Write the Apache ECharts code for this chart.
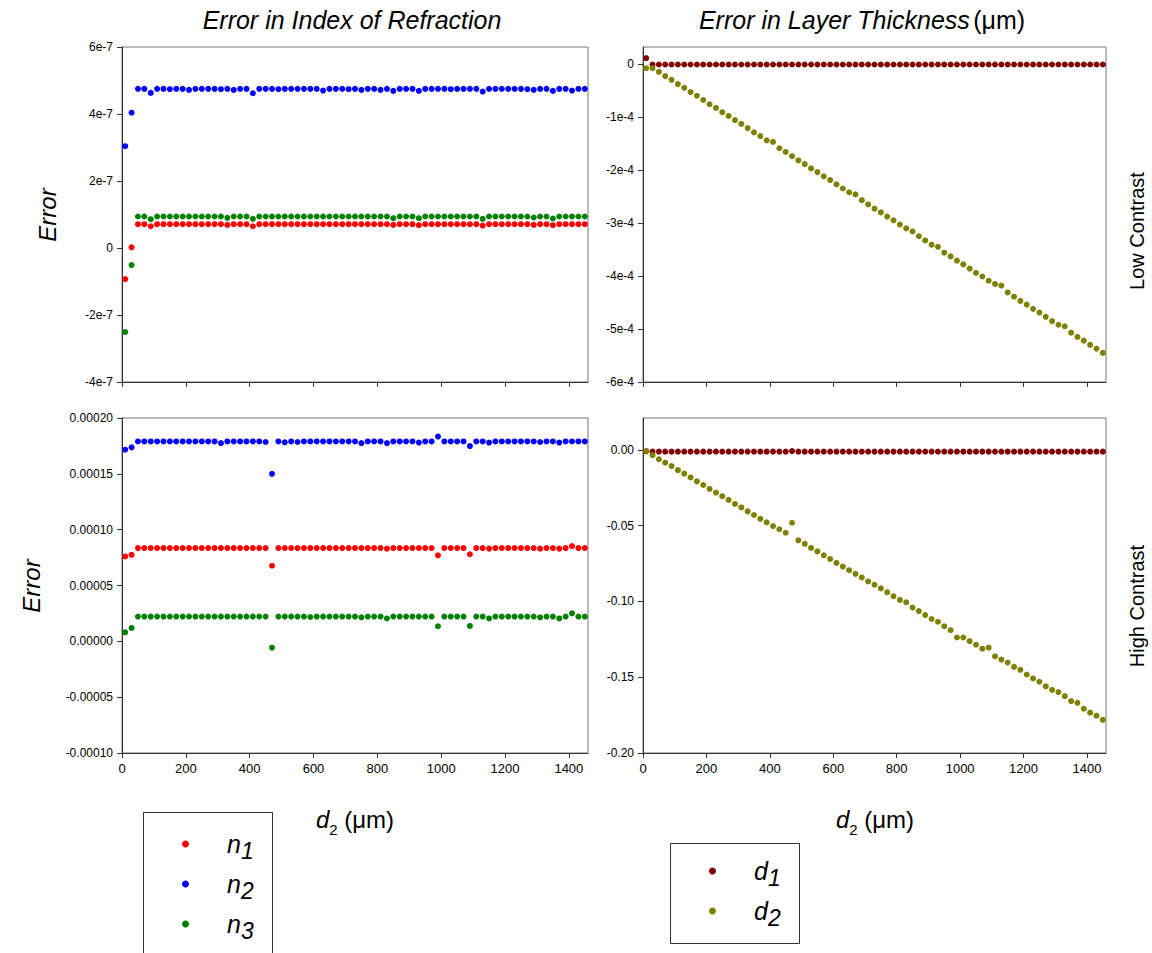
<!DOCTYPE html>
<html>
<head>
<meta charset="utf-8">
<script src="https://cdn.jsdelivr.net/npm/echarts@6/dist/echarts.min.js"></script>
<style>
  html, body {margin: 0; padding: 0; background: #fff;}
  #main {width: 1152px; height: 953px;}
</style>
</head>
<body>
<div id="main"></div>
<script>
// d2 positions (um)
var xVals = [10,30,50,70,90,110,130,150,170,190,210,230,250,270,290,310,330,350,370,390,
  410,430,450,470,490,510,530,550,570,590,610,630,650,670,690,710,730,750,770,790,
  810,830,850,870,890,910,930,950,970,990,1010,1030,1050,1070,1090,1110,1130,1150,1170,1190,
  1210,1230,1250,1270,1290,1310,1330,1350,1370,1390,1410,1430,1450];

// low contrast, index errors
var lowN1 = [-0.93e-7,0.02e-7,0.71e-7,0.71e-7,0.65e-7,0.71e-7,0.71e-7,0.71e-7,0.71e-7,0.71e-7,
  0.71e-7,0.71e-7,0.71e-7,0.71e-7,0.71e-7,0.71e-7,0.69e-7,0.71e-7,0.71e-7,0.71e-7,
  0.65e-7,0.71e-7,0.71e-7,0.71e-7,0.71e-7,0.71e-7,0.71e-7,0.71e-7,0.71e-7,0.71e-7,
  0.71e-7,0.71e-7,0.71e-7,0.71e-7,0.71e-7,0.71e-7,0.71e-7,0.71e-7,0.71e-7,0.71e-7,
  0.71e-7,0.71e-7,0.69e-7,0.71e-7,0.71e-7,0.71e-7,0.68e-7,0.71e-7,0.71e-7,0.71e-7,
  0.71e-7,0.71e-7,0.71e-7,0.71e-7,0.71e-7,0.71e-7,0.67e-7,0.71e-7,0.71e-7,0.71e-7,
  0.71e-7,0.71e-7,0.71e-7,0.71e-7,0.69e-7,0.71e-7,0.71e-7,0.68e-7,0.71e-7,0.71e-7,
  0.71e-7,0.71e-7,0.71e-7];
var lowN2 = [3.04e-7,4.04e-7,4.75e-7,4.75e-7,4.63e-7,4.75e-7,4.75e-7,4.74e-7,4.75e-7,4.75e-7,
  4.72e-7,4.75e-7,4.75e-7,4.75e-7,4.75e-7,4.74e-7,4.75e-7,4.72e-7,4.75e-7,4.75e-7,
  4.62e-7,4.75e-7,4.75e-7,4.75e-7,4.74e-7,4.75e-7,4.75e-7,4.75e-7,4.75e-7,4.75e-7,
  4.75e-7,4.70e-7,4.75e-7,4.75e-7,4.75e-7,4.74e-7,4.75e-7,4.72e-7,4.75e-7,4.75e-7,
  4.72e-7,4.75e-7,4.69e-7,4.75e-7,4.75e-7,4.75e-7,4.69e-7,4.75e-7,4.75e-7,4.75e-7,
  4.75e-7,4.74e-7,4.75e-7,4.75e-7,4.75e-7,4.75e-7,4.67e-7,4.75e-7,4.75e-7,4.75e-7,
  4.75e-7,4.75e-7,4.75e-7,4.74e-7,4.72e-7,4.75e-7,4.75e-7,4.69e-7,4.75e-7,4.75e-7,
  4.70e-7,4.75e-7,4.75e-7];
var lowN3 = [-2.51e-7,-0.51e-7,0.94e-7,0.94e-7,0.86e-7,0.94e-7,0.94e-7,0.94e-7,0.94e-7,0.94e-7,
  0.94e-7,0.94e-7,0.94e-7,0.94e-7,0.94e-7,0.94e-7,0.90e-7,0.94e-7,0.94e-7,0.94e-7,
  0.87e-7,0.94e-7,0.94e-7,0.94e-7,0.94e-7,0.94e-7,0.94e-7,0.94e-7,0.94e-7,0.94e-7,
  0.94e-7,0.94e-7,0.94e-7,0.94e-7,0.94e-7,0.94e-7,0.94e-7,0.94e-7,0.94e-7,0.94e-7,
  0.94e-7,0.94e-7,0.89e-7,0.94e-7,0.94e-7,0.94e-7,0.89e-7,0.94e-7,0.94e-7,0.94e-7,
  0.94e-7,0.94e-7,0.94e-7,0.94e-7,0.94e-7,0.94e-7,0.87e-7,0.94e-7,0.94e-7,0.94e-7,
  0.94e-7,0.94e-7,0.94e-7,0.94e-7,0.91e-7,0.94e-7,0.94e-7,0.88e-7,0.94e-7,0.94e-7,
  0.94e-7,0.94e-7,0.94e-7];

// low contrast, thickness errors (um)
var lowD1 = [1.1e-5,-1e-6,-1e-6,-1e-6,-1e-6,-1e-6,-1e-6,-1e-6,-1e-6,-1e-6,
  -1e-6,-1e-6,-1e-6,-1e-6,-1e-6,-1e-6,-1e-6,-1e-6,-1e-6,-1e-6,
  -1e-6,-1e-6,-1e-6,-1e-6,-1e-6,-1e-6,-1e-6,-1e-6,-1e-6,-1e-6,
  -1e-6,-1e-6,-1e-6,-1e-6,-1e-6,-1e-6,-1e-6,-1e-6,-1e-6,-1e-6,
  -1e-6,-1e-6,-1e-6,-1e-6,-1e-6,-1e-6,-1e-6,-1e-6,-1e-6,-1e-6,
  -1e-6,-1e-6,-1e-6,-1e-6,-1e-6,-1e-6,-1e-6,-1e-6,-1e-6,-1e-6,
  -1e-6,-1e-6,-1e-6,-1e-6,-1e-6,-1e-6,-1e-6,-1e-6,-1e-6,-1e-6,
  -1e-6,-1e-6,-1e-6];
var lowD2 = [-0.08e-4,-0.08e-4,-0.15e-4,-0.23e-4,-0.30e-4,-0.38e-4,-0.45e-4,-0.53e-4,-0.60e-4,-0.68e-4,
  -0.76e-4,-0.83e-4,-0.91e-4,-0.98e-4,-1.06e-4,-1.13e-4,-1.21e-4,-1.29e-4,-1.36e-4,-1.44e-4,
  -1.47e-4,-1.59e-4,-1.66e-4,-1.74e-4,-1.82e-4,-1.89e-4,-1.97e-4,-2.04e-4,-2.12e-4,-2.19e-4,
  -2.27e-4,-2.35e-4,-2.42e-4,-2.46e-4,-2.57e-4,-2.65e-4,-2.73e-4,-2.80e-4,-2.88e-4,-2.95e-4,
  -3.03e-4,-3.10e-4,-3.16e-4,-3.25e-4,-3.33e-4,-3.41e-4,-3.45e-4,-3.56e-4,-3.63e-4,-3.71e-4,
  -3.78e-4,-3.86e-4,-3.94e-4,-4.01e-4,-4.09e-4,-4.15e-4,-4.18e-4,-4.31e-4,-4.39e-4,-4.47e-4,
  -4.54e-4,-4.62e-4,-4.69e-4,-4.77e-4,-4.85e-4,-4.92e-4,-4.95e-4,-5.07e-4,-5.15e-4,-5.22e-4,
  -5.30e-4,-5.37e-4,-5.45e-4];

// high contrast, index errors
var highN1 = [0.0000760,0.0000775,0.0000835,0.0000835,0.0000835,0.0000835,0.0000835,0.0000835,0.0000835,0.0000835,
  0.0000835,0.0000835,0.0000835,0.0000835,0.0000835,0.0000835,0.0000835,0.0000835,0.0000835,0.0000835,
  0.0000835,0.0000835,0.0000835,0.0000677,0.0000835,0.0000835,0.0000835,0.0000835,0.0000835,0.0000835,
  0.0000835,0.0000835,0.0000835,0.0000835,0.0000835,0.0000835,0.0000835,0.0000835,0.0000835,0.0000835,
  0.0000835,0.0000830,0.0000835,0.0000835,0.0000835,0.0000835,0.0000835,0.0000835,0.0000835,0.0000770,
  0.0000835,0.0000835,0.0000835,0.0000835,0.0000780,0.0000835,0.0000835,0.0000830,0.0000835,0.0000835,
  0.0000835,0.0000835,0.0000835,0.0000835,0.0000835,0.0000830,0.0000835,0.0000835,0.0000830,0.0000835,
  0.0000853,0.0000835,0.0000835];
var highN2 = [0.0001716,0.0001737,0.0001790,0.0001790,0.0001790,0.0001790,0.0001790,0.0001790,0.0001790,0.0001790,
  0.0001790,0.0001790,0.0001790,0.0001790,0.0001790,0.0001775,0.0001790,0.0001790,0.0001790,0.0001790,
  0.0001790,0.0001790,0.0001785,0.0001500,0.0001790,0.0001782,0.0001790,0.0001785,0.0001790,0.0001790,
  0.0001790,0.0001790,0.0001790,0.0001790,0.0001790,0.0001790,0.0001790,0.0001775,0.0001790,0.0001790,
  0.0001790,0.0001775,0.0001790,0.0001790,0.0001790,0.0001790,0.0001780,0.0001790,0.0001790,0.0001834,
  0.0001790,0.0001790,0.0001790,0.0001790,0.0001749,0.0001790,0.0001790,0.0001780,0.0001790,0.0001790,
  0.0001790,0.0001790,0.0001790,0.0001790,0.0001790,0.0001785,0.0001790,0.0001790,0.0001780,0.0001790,
  0.0001790,0.0001790,0.0001790];
var highN3 = [0.0000081,0.0000120,0.0000222,0.0000222,0.0000222,0.0000222,0.0000222,0.0000222,0.0000222,0.0000222,
  0.0000222,0.0000222,0.0000222,0.0000222,0.0000222,0.0000222,0.0000222,0.0000222,0.0000222,0.0000222,
  0.0000222,0.0000222,0.0000222,-0.0000057,0.0000222,0.0000222,0.0000222,0.0000222,0.0000222,0.0000218,
  0.0000222,0.0000222,0.0000222,0.0000222,0.0000222,0.0000222,0.0000222,0.0000215,0.0000222,0.0000222,
  0.0000222,0.0000205,0.0000222,0.0000222,0.0000222,0.0000222,0.0000222,0.0000222,0.0000222,0.0000135,
  0.0000222,0.0000222,0.0000222,0.0000222,0.0000138,0.0000222,0.0000222,0.0000205,0.0000222,0.0000222,
  0.0000222,0.0000222,0.0000222,0.0000222,0.0000222,0.0000215,0.0000222,0.0000222,0.0000205,0.0000222,
  0.0000251,0.0000222,0.0000222];

// high contrast, thickness errors (um)
var highD1 = [-0.0010,-0.0012,-0.0012,-0.0012,-0.0012,-0.0012,-0.0012,-0.0012,-0.0012,-0.0012,
  -0.0012,-0.0012,-0.0012,-0.0012,-0.0012,-0.0012,-0.0012,-0.0012,-0.0012,-0.0012,
  -0.0012,-0.0012,-0.0012,-0.0008,-0.0012,-0.0012,-0.0012,-0.0012,-0.0012,-0.0012,
  -0.0012,-0.0012,-0.0012,-0.0012,-0.0012,-0.0012,-0.0012,-0.0012,-0.0012,-0.0012,
  -0.0012,-0.0012,-0.0012,-0.0012,-0.0012,-0.0012,-0.0012,-0.0012,-0.0012,-0.0012,
  -0.0012,-0.0012,-0.0012,-0.0012,-0.0012,-0.0012,-0.0012,-0.0012,-0.0012,-0.0012,
  -0.0012,-0.0012,-0.0012,-0.0012,-0.0012,-0.0012,-0.0012,-0.0012,-0.0012,-0.0012,
  -0.0012,-0.0012,-0.0012];
var highD2 = [-0.0009,-0.0035,-0.0062,-0.0085,-0.0107,-0.0134,-0.0157,-0.0182,-0.0208,-0.0232,
  -0.0258,-0.0282,-0.0306,-0.0330,-0.0357,-0.0380,-0.0406,-0.0430,-0.0455,-0.0478,
  -0.0503,-0.0524,-0.0547,-0.0481,-0.0597,-0.0620,-0.0647,-0.0670,-0.0696,-0.0720,
  -0.0746,-0.0770,-0.0794,-0.0818,-0.0842,-0.0868,-0.0890,-0.0914,-0.0940,-0.0966,
  -0.0990,-0.1006,-0.1040,-0.1064,-0.1090,-0.1116,-0.1134,-0.1164,-0.1190,-0.1238,
  -0.1238,-0.1262,-0.1286,-0.1312,-0.1305,-0.1362,-0.1384,-0.1403,-0.1432,-0.1451,
  -0.1482,-0.1508,-0.1530,-0.1560,-0.1584,-0.1599,-0.1625,-0.1658,-0.1669,-0.1708,
  -0.1734,-0.1754,-0.1782];

// ticks and their labels
var xTicks = [0,200,400,600,800,1000,1200,1400];
var yTicksTL = [-4e-7,-2e-7,0,2e-7,4e-7,6e-7];
var yLabelsTL = ['-4e-7','-2e-7','0','2e-7','4e-7','6e-7'];
var yTicksTR = [-6e-4,-5e-4,-4e-4,-3e-4,-2e-4,-1e-4,0];
var yLabelsTR = ['-6e-4','-5e-4','-4e-4','-3e-4','-2e-4','-1e-4','0'];
var yTicksBL = [-0.0001,-0.00005,0,0.00005,0.0001,0.00015,0.0002];
var yLabelsBL = ['-0.00010','-0.00005','0.00000','0.00005','0.00010','0.00015','0.00020'];
var yTicksBR = [-0.2,-0.15,-0.1,-0.05,0];
var yLabelsBR = ['-0.20','-0.15','-0.10','-0.05','0.00'];

var FONT = 'Liberation Sans, Arial, sans-serif';
var colors = {n1: '#ff0000', n2: '#0000ff', n3: '#008000', d1: '#800000', d2: '#808000'};

function pts(arr) {
    return xVals.map(function (x, i) { return [x, arr[i]]; });
}
function pickLabel(ticks, labels) {
    return function (v) {
        for (var i = 0; i < ticks.length; i++) {
            if (Math.abs(ticks[i] - v) < Math.abs(ticks[1] - ticks[0]) * 1e-3) return labels[i];
        }
        return '';
    };
}
function xAxis(idx, showLabel) {
    return {
        type: 'value', gridIndex: idx, min: 0, max: 1460,
        axisLine: {show: true, onZero: false, lineStyle: {color: '#333'}},
        axisTick: {show: true, inside: false, length: 5, customValues: xTicks, lineStyle: {color: '#333'}},
        axisLabel: {show: showLabel, customValues: xTicks, margin: 9, color: '#000', fontSize: 13, fontFamily: FONT,
            formatter: function (v) { return String(v); }},
        splitLine: {show: false}
    };
}
function yAxis(idx, min, max, ticks, labels) {
    return {
        type: 'value', gridIndex: idx, min: min, max: max,
        axisLine: {show: true, onZero: false, lineStyle: {color: '#333'}},
        axisTick: {show: true, inside: false, length: 5, customValues: ticks, lineStyle: {color: '#333'}},
        axisLabel: {customValues: ticks, margin: 9, color: '#000', fontSize: 12, fontFamily: FONT,
            formatter: pickLabel(ticks, labels)},
        splitLine: {show: false}
    };
}
function scatter(name, g, arr) {
    return {
        name: name, type: 'scatter', xAxisIndex: g, yAxisIndex: g,
        data: pts(arr), symbolSize: 6, itemStyle: {color: colors[name], opacity: 1},
        emphasis: {disabled: true}, animation: false
    };
}

var subRich = {
    v: {fontSize: 25, fontStyle: 'italic', fontFamily: FONT, color: '#000', lineHeight: 26, verticalAlign: 'top'},
    s: {fontSize: 23, fontStyle: 'italic', fontFamily: FONT, color: '#000', lineHeight: 26, verticalAlign: 'top', padding: [8, 0, 0, 0]}
};
function legendFmt(name) {
    return '{v|' + name.charAt(0) + '}{s|' + name.slice(1) + '}';
}
var nameRich = {
    d: {font: 'italic 24px ' + FONT, fill: '#000', lineHeight: 26, verticalAlign: 'bottom'},
    s: {font: '15px ' + FONT, fill: '#000', lineHeight: 26, verticalAlign: 'bottom', padding: [0, 0, -6, 0]},
    n: {font: '24px ' + FONT, fill: '#000', lineHeight: 26, verticalAlign: 'bottom'}
};

var dom = document.getElementById('main');
var myChart = echarts.init(dom, null, {renderer: 'svg'});
var option = {
    backgroundColor: '#fff',
    animation: false,
    grid: [
        {left: 122, top: 47, width: 466, height: 335, show: true, borderColor: '#777', borderWidth: 1},
        {left: 643, top: 47, width: 463, height: 335, show: true, borderColor: '#777', borderWidth: 1},
        {left: 122, top: 418, width: 466, height: 335, show: true, borderColor: '#777', borderWidth: 1},
        {left: 643, top: 418, width: 463, height: 335, show: true, borderColor: '#777', borderWidth: 1}
    ],
    xAxis: [xAxis(0, false), xAxis(1, false), xAxis(2, true), xAxis(3, true)],
    yAxis: [
        yAxis(0, -4e-7, 6e-7, yTicksTL, yLabelsTL),
        yAxis(1, -6e-4, 3.2e-5, yTicksTR, yLabelsTR),
        yAxis(2, -0.0001, 0.0002, yTicksBL, yLabelsBL),
        yAxis(3, -0.2, 0.021, yTicksBR, yLabelsBR)
    ],
    legend: [
        {
            data: ['n1', 'n2', 'n3'], orient: 'vertical', left: 143, top: 831,
            icon: 'circle', itemWidth: 7, itemHeight: 7, itemGap: 9,
            padding: [0, 10, 0, 39], selectedMode: false, formatter: legendFmt,
            textStyle: {padding: [0, 0, 0, 33], rich: subRich}
        },
        {
            data: ['d1', 'd2'], orient: 'vertical', left: 670, top: 858,
            icon: 'circle', itemWidth: 7, itemHeight: 7, itemGap: 9,
            padding: [0, 10, 0, 39], selectedMode: false, formatter: legendFmt,
            textStyle: {padding: [0, 0, 0, 33], rich: subRich}
        }
    ],
    graphic: [
        {type: 'rect', shape: {x: 143.5, y: 812.5, width: 129, height: 160}, style: {fill: 'none', stroke: '#333', lineWidth: 1}},
        {type: 'rect', shape: {x: 670.5, y: 843.5, width: 129, height: 100}, style: {fill: 'none', stroke: '#333', lineWidth: 1}},
        {type: 'text', x: 352, y: 20, style: {text: 'Error in Index of Refraction', align: 'center', verticalAlign: 'middle',
            font: 'italic 25px ' + FONT, fill: '#000'}},
        {type: 'text', x: 862, y: 20, style: {text: '{i|Error in Layer Thickness} {r|(μm)}', align: 'center', verticalAlign: 'middle',
            rich: {i: {font: 'italic 25px ' + FONT, fill: '#000'}, r: {font: '25px ' + FONT, fill: '#000'}}}},
        {type: 'text', x: 47, y: 215, rotation: Math.PI / 2, style: {text: 'Error', align: 'center', verticalAlign: 'middle',
            font: 'italic 24px ' + FONT, fill: '#000'}},
        {type: 'text', x: 31, y: 586, rotation: Math.PI / 2, style: {text: 'Error', align: 'center', verticalAlign: 'middle',
            font: 'italic 24px ' + FONT, fill: '#000'}},
        {type: 'text', x: 1137, y: 231, rotation: Math.PI / 2, style: {text: 'Low Contrast', align: 'center', verticalAlign: 'middle',
            font: '20px ' + FONT, fill: '#000'}},
        {type: 'text', x: 1137, y: 606, rotation: Math.PI / 2, style: {text: 'High Contrast', align: 'center', verticalAlign: 'middle',
            font: '20px ' + FONT, fill: '#000'}},
        {type: 'text', x: 355, y: 818, style: {text: '{d|d}{s|2}{n| (μm)}', align: 'center', verticalAlign: 'middle', rich: nameRich}},
        {type: 'text', x: 875, y: 818, style: {text: '{d|d}{s|2}{n| (μm)}', align: 'center', verticalAlign: 'middle', rich: nameRich}}
    ],
    series: [
        scatter('n1', 0, lowN1), scatter('n3', 0, lowN3), scatter('n2', 0, lowN2),
        scatter('d1', 1, lowD1), scatter('d2', 1, lowD2),
        scatter('n1', 2, highN1), scatter('n3', 2, highN3), scatter('n2', 2, highN2),
        scatter('d1', 3, highD1), scatter('d2', 3, highD2)
    ]
};
if (option && typeof option === "object") {
    myChart.setOption(option, true);
}
</script>
</body>
</html>
